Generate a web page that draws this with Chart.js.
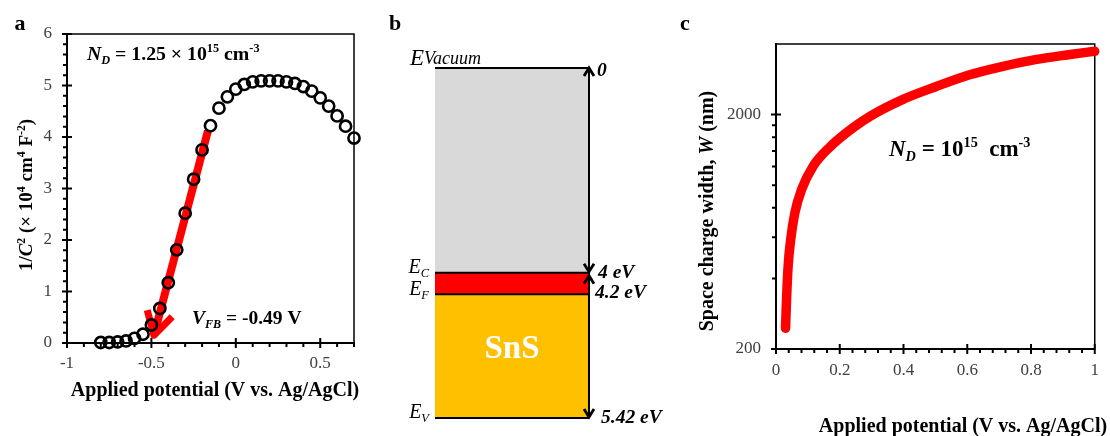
<!DOCTYPE html>
<html>
<head>
<meta charset="utf-8">
<script src="https://cdn.jsdelivr.net/npm/chart.js@4.4.1/dist/chart.umd.min.js"></script>
<style>
    html, body { margin: 0; padding: 0; background: #fff; }
    #wrap { position: relative; width: 1110px; height: 436px; overflow: hidden; }
    canvas { position: absolute; top: 0; }
</style>
</head>
<body>
<div id="wrap">
    <canvas id="chartA" width="380" height="436" style="left:0"></canvas>
    <canvas id="chartB" width="290" height="436" style="left:380px"></canvas>
    <canvas id="chartC" width="440" height="436" style="left:670px"></canvas>
</div>
<script>
'use strict';

const SERIF = '"Liberation Serif", "Times New Roman", serif';

// ---- a: Mott-Schottky (1/C^2 vs potential) -----------------
const msPotential = [-0.8, -0.75, -0.7, -0.65, -0.6, -0.55, -0.5, -0.45, -0.4, -0.35,
    -0.3, -0.25, -0.2, -0.15, -0.1, -0.05, 0, 0.05, 0.1, 0.15,
    0.2, 0.25, 0.3, 0.35, 0.4, 0.45, 0.5, 0.55, 0.6, 0.65, 0.7];
const msInvC2 = [0.01, 0.01, 0.02, 0.04, 0.09, 0.17, 0.35, 0.67, 1.17, 1.81,
    2.52, 3.18, 3.75, 4.22, 4.56, 4.78, 4.93, 5.02, 5.07, 5.09,
    5.09, 5.09, 5.07, 5.04, 4.98, 4.89, 4.76, 4.60, 4.41, 4.21, 3.98];
// linear fit arrow, pointing to the flat-band potential
const fitPotential = [-0.165, -0.485];
const fitInvC2 = [4.12, 0.15];
const aXTicks = [-1, -0.5, 0, 0.5];
const aYTicks = [0, 1, 2, 3, 4, 5, 6];

// ---- b: band diagram (schematic, not to scale) -------------
const bandLevels = [0, 4, 4.42, 6.84];
const bandLeftLabels = [['E', 'Vacuum'], ['E', 'C'], ['E', 'F'], ['E', 'V']];
const bandRightLabels = ['0', '4 eV', '4.2 eV', '5.42 eV'];
const bandFills = ['#d9d9d9', '#ff0000', '#ffc000'];
const bandArrows = [[0, 1], [1, 3]];

// ---- c: space charge width vs potential --------------------
const scPotential = [0.030, 0.033, 0.038, 0.046, 0.059, 0.080, 0.116, 0.168, 0.241,
    0.30, 0.397, 0.501, 0.605, 0.709, 0.813, 0.917, 1.0];
const scWidth = [245, 324, 450, 585, 760, 956, 1202, 1450, 1755,
    1985, 2318, 2630, 2950, 3205, 3430, 3600, 3725];
const cXTicks = [0, 0.2, 0.4, 0.6, 0.8, 1];
const cYTicks = [200, 2000];
const cYMinor = [400, 600, 800, 1000, 1200, 1400, 1600, 1800];

Chart.defaults.font.family = SERIF;

let charts = {};

function minorSteps(min, max, step, majors) {
    const out = [];
    for (let v = min; v <= max + 1e-9; v += step) {
        const r = Math.round(v * 1000) / 1000;
        if (!majors.some(m => Math.abs(m - r) < 1e-6)) out.push(r);
    }
    return out;
}

// rich text: runs of [text, style, size?, dy?]; style: b bold, i italic, ^ sup, _ sub
function drawRich(ctx, runs, x, y, align, base) {
    const parts = runs.map(([t, st, sz, dy]) => {
        const small = st.includes('^') || st.includes('_');
        const size = sz || (small ? base * 0.62 : base);
        const font = (st.includes('i') ? 'italic ' : '') + (st.includes('b') ? 'bold ' : '') + size + 'px ' + SERIF;
        ctx.font = font;
        let off = 0;
        if (st.includes('^')) off = -base * 0.38;
        if (st.includes('_')) off = base * 0.22;
        if (dy !== undefined) off = dy;
        return { t, font, w: ctx.measureText(t).width, off };
    });
    const total = parts.reduce((s, p) => s + p.w, 0);
    let cx = align === 'right' ? x - total : align === 'center' ? x - total / 2 : x;
    ctx.textBaseline = 'alphabetic';
    ctx.textAlign = 'left';
    parts.forEach(p => {
        ctx.font = p.font;
        ctx.fillText(p.t, cx, y + p.off);
        cx += p.w;
    });
}

function textLayer(items) {
    return {
        id: 'textLayer',
        afterDraw(chart) {
            const ctx = chart.ctx;
            items.forEach(it => {
                ctx.save();
                ctx.fillStyle = it.color || '#000';
                ctx.translate(it.x, it.y);
                if (it.rotate) ctx.rotate(-Math.PI / 2);
                drawRich(ctx, it.runs, 0, 0, it.align || 'left', it.size);
                ctx.restore();
            });
        },
    };
}

// frame + tick marks (majors cross the axis, minors point outward)
function axisMarks(xMinor, yMinor) {
    return {
        id: 'axisMarks',
        beforeDatasetsDraw(chart) {
            const { ctx, chartArea: ca, scales: { x, y } } = chart;
            ctx.save();
            ctx.strokeStyle = '#000';
            ctx.lineWidth = 1.5;
            ctx.strokeRect(ca.left, ca.top, ca.right - ca.left, ca.bottom - ca.top);
            ctx.lineWidth = 2;
            ctx.beginPath();
            x.ticks.forEach(t => {
                const px = x.getPixelForValue(t.value);
                ctx.moveTo(px, ca.bottom - 5); ctx.lineTo(px, ca.bottom + 5);
            });
            xMinor.forEach(v => {
                const px = x.getPixelForValue(v);
                ctx.moveTo(px, ca.bottom); ctx.lineTo(px, ca.bottom + 4);
            });
            y.ticks.forEach(t => {
                const py = y.getPixelForValue(t.value);
                ctx.moveTo(ca.left - 5, py); ctx.lineTo(ca.left + 5, py);
            });
            yMinor.forEach(v => {
                const py = y.getPixelForValue(v);
                ctx.moveTo(ca.left - 4, py); ctx.lineTo(ca.left, py);
            });
            ctx.stroke();
            ctx.restore();
        },
    };
}

// open V arrow head at the last point of flagged datasets
const arrowTip = {
    id: 'arrowTip',
    beforeDatasetsDraw(chart) {
        const ctx = chart.ctx;
        chart.data.datasets.forEach((ds, i) => {
            if (!ds.arrowHead) return;
            const pts = chart.getDatasetMeta(i).data;
            const tip = pts[pts.length - 1], prev = pts[pts.length - 2];
            const ang = Math.atan2(prev.y - tip.y, prev.x - tip.x);
            const len = 26, spread = 0.52;
            ctx.save();
            ctx.strokeStyle = ds.borderColor;
            ctx.lineWidth = 7;
            ctx.lineJoin = 'round';
            ctx.beginPath();
            ctx.moveTo(tip.x + len * Math.cos(ang - spread), tip.y + len * Math.sin(ang - spread));
            ctx.lineTo(tip.x, tip.y);
            ctx.lineTo(tip.x + len * Math.cos(ang + spread), tip.y + len * Math.sin(ang + spread));
            ctx.stroke();
            ctx.restore();
        });
    },
};

function tickFont() {
    return { font: { family: SERIF, size: 17 }, color: '#404040' };
}

function baseOptions(padding) {
    return {
        responsive: false,
        animation: false,
        devicePixelRatio: 1,
        events: [],
        layout: { padding },
        plugins: { legend: { display: false }, tooltip: { enabled: false } },
    };
}

// ---- a ------------------------------------------------------
function renderMottSchottky() {
    const ctx = document.getElementById('chartA');
    charts.a = new Chart(ctx, {
        type: 'scatter',
        data: {
            datasets: [
                {
                    data: msPotential.map((x, i) => ({ x, y: msInvC2[i] })),
                    pointRadius: 5.6,
                    pointBorderWidth: 2.6,
                    pointBorderColor: '#000',
                    pointBackgroundColor: 'rgba(0,0,0,0)',
                    showLine: false,
                    clip: false,
                    order: 0,
                },
                {
                    type: 'line',
                    data: fitPotential.map((x, i) => ({ x, y: fitInvC2[i] })),
                    borderColor: '#ff0000',
                    borderWidth: 8,
                    pointRadius: 0,
                    showLine: true,
                    clip: false,
                    order: 1,
                    arrowHead: true,
                },
            ],
        },
        options: {
            ...baseOptions({ left: 17, right: 26, top: 34, bottom: 43 }),
            scales: {
                x: {
                    type: 'linear', min: -1, max: 0.7,
                    afterFit: s => { s.height = 50; },
                    afterBuildTicks: s => { s.ticks = aXTicks.map(v => ({ value: v })); },
                    grid: { display: false, drawTicks: false },
                    border: { color: '#000', width: 2 },
                    ticks: { ...tickFont(), padding: 10, callback: v => String(v) },
                },
                y: {
                    type: 'linear', min: 0, max: 6,
                    afterFit: s => { s.width = 50; },
                    afterBuildTicks: s => { s.ticks = aYTicks.map(v => ({ value: v })); },
                    grid: { display: false, drawTicks: false },
                    border: { color: '#000', width: 2 },
                    ticks: { ...tickFont(), padding: 15, callback: v => String(v) },
                },
            },
        },
        plugins: [
            axisMarks(minorSteps(-1, 0.7, 0.1, aXTicks), minorSteps(0, 6, 0.2, aYTicks)),
            arrowTip,
            textLayer([
                { runs: [['a', 'b']], x: 20, y: 30, size: 22, align: 'center' },
                { runs: [['N', 'bi'], ['D', 'bi_'], [' = 1.25 × 10', 'b'], ['15', 'b^'], [' cm', 'b'], ['-3', 'b^']], x: 87, y: 60, size: 19.8 },
                { runs: [['V', 'bi'], ['FB', 'bi_'], [' = -0.49 V', 'b']], x: 192, y: 324, size: 19.5 },
                { runs: [['Applied potential (V vs. Ag/AgCl)', 'b']], x: 215, y: 396, size: 20, align: 'center' },
                { runs: [['1/', 'b'], ['C', 'bi'], ['2', 'b^'], [' (× 10', 'b'], ['4', 'b^'], [' cm', 'b'], ['4', 'b^'], [' F', 'b'], ['-2', 'b^'], [')', 'b']],
                  x: 32, y: 195, size: 19, align: 'center', rotate: true },
            ]),
        ],
    });
}

// ---- b ------------------------------------------------------
const bandDecor = {
    id: 'bandDecor',
    afterDatasetsDraw(chart) {
        const { ctx, chartArea: ca, scales: { y } } = chart;
        const py = bandLevels.map(v => y.getPixelForValue(v));
        ctx.save();
        ctx.strokeStyle = '#000';
        ctx.lineWidth = 2;
        ctx.beginPath();
        py.forEach(p => { ctx.moveTo(ca.left, p); ctx.lineTo(ca.right, p); });
        ctx.stroke();

        // arrows on the right edge
        const chevron = (x, yy, dir) => {
            ctx.moveTo(x - 5, yy - dir * 8);
            ctx.lineTo(x, yy);
            ctx.lineTo(x + 5, yy - dir * 8);
        };
        ctx.lineWidth = 2;
        ctx.beginPath();
        ctx.moveTo(ca.right, py[0]);
        ctx.lineTo(ca.right, py[py.length - 1]);
        ctx.stroke();
        ctx.lineWidth = 2.8;
        ctx.beginPath();
        bandArrows.forEach(([a, b], k) => {
            chevron(ca.right, py[a] + (k ? 3 : 0), -1);
            chevron(ca.right, py[b] - 1, 1);
        });
        ctx.stroke();

        // level labels
        ctx.fillStyle = '#000';
        const leftDy = [-3, 0, 1, 0];
        bandLeftLabels.forEach(([main, sub], i) => {
            if (i === 0) {
                drawRich(ctx, [[main, 'i', 23], [sub, 'i', 18, -1]], ca.left - 25, py[i] + leftDy[i], 'left', 23);
            } else {
                drawRich(ctx, [[main, 'i', 20], [sub, 'i_', 12.5, 4]], ca.left - 6, py[i] + leftDy[i], 'right', 20);
            }
        });
        const rightDx = [8, 9, 6, 12];
        const rightDy = [8, 5, 4, 5];
        bandRightLabels.forEach((t, i) => {
            drawRich(ctx, [[t, 'bi']], ca.right + rightDx[i], py[i] + rightDy[i], 'left', 19.5);
        });

        // material name inside the valence region
        ctx.fillStyle = '#fff';
        const mid = (py[2] + py[3]) / 2;
        drawRich(ctx, [['SnS', 'b']], (ca.left + ca.right) / 2, mid + 2, 'center', 33);
        ctx.restore();
    },
};

function renderBandDiagram() {
    const ctx = document.getElementById('chartB');
    charts.b = new Chart(ctx, {
        type: 'bar',
        data: {
            labels: ['SnS'],
            datasets: bandFills.map((c, i) => ({
                data: [[bandLevels[i], bandLevels[i + 1]]],
                backgroundColor: c,
                borderWidth: 0,
                grouped: false,
                barPercentage: 1,
                categoryPercentage: 1,
            })),
        },
        options: {
            ...baseOptions({ left: 55, right: 81, top: 68, bottom: 18 }),
            scales: {
                x: { display: false },
                y: { display: false, reverse: true, min: 0, max: bandLevels[bandLevels.length - 1] },
            },
        },
        plugins: [
            bandDecor,
            textLayer([{ runs: [['b', 'b']], x: 15, y: 30, size: 22, align: 'center' }]),
        ],
    });
}

// ---- c ------------------------------------------------------
function renderSpaceCharge() {
    const ctx = document.getElementById('chartC');
    charts.c = new Chart(ctx, {
        type: 'scatter',
        data: {
            datasets: [{
                data: scPotential.map((x, i) => ({ x, y: scWidth[i] })),
                borderColor: '#ff0000',
                borderWidth: 9.5,
                borderCapStyle: 'round',
                borderJoinStyle: 'round',
                cubicInterpolationMode: 'monotone',
                pointRadius: 0,
                showLine: true,
                clip: false,
            }],
        },
        options: {
            ...baseOptions({ left: 46, right: 13, top: 44, bottom: 47 }),
            scales: {
                x: {
                    type: 'linear', min: 0, max: 1,
                    afterFit: s => { s.height = 40; },
                    afterBuildTicks: s => { s.ticks = cXTicks.map(v => ({ value: v })); },
                    grid: { display: false, drawTicks: false },
                    border: { color: '#000', width: 2 },
                    ticks: { ...tickFont(), padding: 11, callback: v => String(v) },
                },
                y: {
                    type: 'logarithmic', min: 200, max: 4000,
                    afterFit: s => { s.width = 60; },
                    afterBuildTicks: s => { s.ticks = cYTicks.map(v => ({ value: v })); },
                    grid: { display: false, drawTicks: false },
                    border: { color: '#000', width: 2 },
                    ticks: { ...tickFont(), padding: 15, callback: v => String(v) },
                },
            },
        },
        plugins: [
            axisMarks(minorSteps(0, 1, 0.04, cXTicks), cYMinor),
            textLayer([
                { runs: [['c', 'b']], x: 15, y: 30, size: 22, align: 'center' },
                { runs: [['N', 'bi'], ['D', 'bi_'], [' = 10', 'b'], ['15', 'b^'], ['  cm', 'b'], ['-3', 'b^']], x: 219, y: 156, size: 23 },
                { runs: [['Applied potential (V vs. Ag/AgCl)', 'b']], x: 293, y: 432, size: 20, align: 'center' },
                { runs: [['Space charge width, ', 'b'], ['W', 'bi'], [' (nm)', 'b']], x: 43, y: 211, size: 20, align: 'center', rotate: true },
            ]),
        ],
    });
}

renderMottSchottky();
renderBandDiagram();
renderSpaceCharge();
</script>
</body>
</html>
